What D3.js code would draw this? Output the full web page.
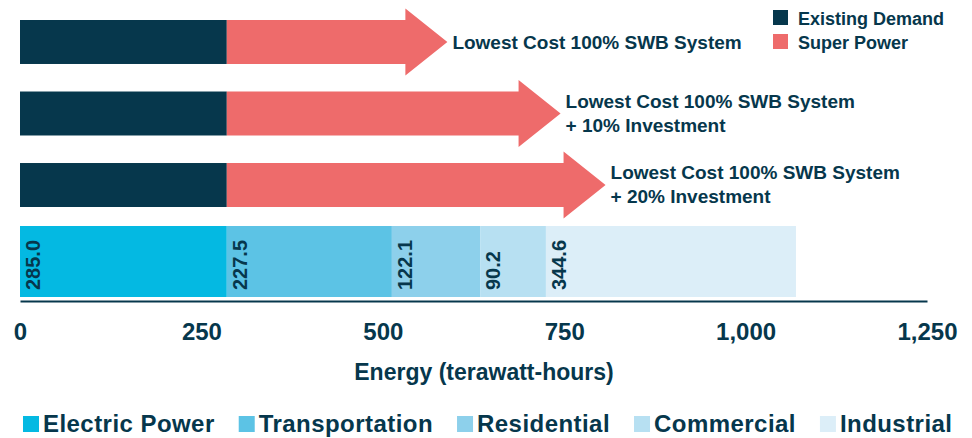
<!DOCTYPE html>
<html>
<head>
<meta charset="utf-8">
<script src="https://cdn.jsdelivr.net/npm/d3@7"></script>
<style>
  body { margin: 0; background: #fff; }
  svg { font-family: "Liberation Sans", Arial, Helvetica, sans-serif; font-weight: bold; }
</style>
</head>
<body>
<svg width="972" height="438"></svg>
<script>
// scenarios (arrow rows)
var scenarios = ["base", "plus10", "plus20"];
var scenarioLabels = [
    ["Lowest Cost 100% SWB System"],
    ["Lowest Cost 100% SWB System", "+ 10% Investment"],
    ["Lowest Cost 100% SWB System", "+ 20% Investment"]
];
var existingDemand = [285, 285, 285];
var superPower = [304, 460, 522];

// current demand by sector
var sectors = ["Electric Power", "Transportation", "Residential", "Commercial", "Industrial"];
var sectorValues = [285.0, 227.5, 122.1, 90.2, 344.6];

var xTicks = [0, 250, 500, 750, 1000, 1250];

var navy = "#06374c";
var red = "#ee6b6b";
var sectorColors = ["#04b9e2", "#5cc3e5", "#8dd0eb", "#b7e0f2", "#dceef8"];

function main() {
    var svg = d3.select("svg");

    var x = d3.scaleLinear()
        .domain([0, 1250])
        .range([20, 927]);

    var y = d3.scaleBand()
        .domain(scenarios)
        .range([20, 207])
        .paddingInner(0.385)
        .paddingOuter(0);

    var barTop = 226, barBottom = 297, axisY = 301;
    var headLen = 42, headHalf = 33.5;

    // existing demand bars
    svg.append("g").selectAll("rect")
        .data(scenarios)
        .enter().append("rect")
        .attr("x", x(0))
        .attr("y", function(d) { return y(d); })
        .attr("width", function(d, i) { return x(existingDemand[i]) - x(0); })
        .attr("height", y.bandwidth())
        .attr("fill", navy);

    // super power arrows
    svg.append("g").selectAll("path")
        .data(scenarios)
        .enter().append("path")
        .attr("fill", red)
        .attr("d", function(d, i) {
            var x0 = x(existingDemand[i]);
            var tip = x(existingDemand[i] + superPower[i]);
            var t = y(d), b = y(d) + y.bandwidth(), c = y(d) + y.bandwidth() / 2;
            return "M" + x0 + "," + t +
                "L" + (tip - headLen) + "," + t +
                "L" + (tip - headLen) + "," + (c - headHalf) +
                "L" + tip + "," + c +
                "L" + (tip - headLen) + "," + (c + headHalf) +
                "L" + (tip - headLen) + "," + b +
                "L" + x0 + "," + b + "Z";
        });

    // arrow labels
    svg.append("g").selectAll("text")
        .data(scenarios)
        .enter().append("text")
        .attr("font-size", "19px")
        .attr("fill", navy)
        .each(function(d, i) {
            var lines = scenarioLabels[i];
            var c = y(d) + y.bandwidth() / 2;
            var base = lines.length == 1 ? c + 7 : c - 6;
            var tip = x(existingDemand[i] + superPower[i]);
            d3.select(this).selectAll("tspan")
                .data(lines)
                .enter().append("tspan")
                .attr("x", tip + 5)
                .attr("y", function(l, j) { return base + j * 24; })
                .text(function(l) { return l; });
        });

    // stacked sector bar
    var starts = [];
    var acc = 0;
    sectorValues.forEach(function(v) { starts.push(acc); acc += v; });

    svg.append("g").selectAll("rect")
        .data(sectors)
        .enter().append("rect")
        .attr("x", function(d, i) { return x(starts[i]); })
        .attr("y", barTop)
        .attr("width", function(d, i) { return x(starts[i] + sectorValues[i]) - x(starts[i]); })
        .attr("height", barBottom - barTop)
        .attr("fill", function(d, i) { return sectorColors[i]; });

    svg.append("g").selectAll("text")
        .data(sectors)
        .enter().append("text")
        .attr("transform", function(d, i) {
            return "translate(" + (x(starts[i]) + 20) + "," + (barBottom - 7) + ") rotate(-90)";
        })
        .attr("font-size", "20px")
        .attr("fill", navy)
        .text(function(d, i) { return sectorValues[i].toFixed(1); });

    // x axis
    var axis = svg.append("g")
        .attr("transform", "translate(0," + axisY + ")")
        .call(d3.axisBottom(x).tickValues(xTicks).tickSize(0).tickPadding(22)
            .tickFormat(d3.format(",")));
    axis.select(".domain").attr("stroke", navy).attr("stroke-width", 2);
    axis.selectAll("text")
        .attr("font-size", "24px")
        .attr("fill", navy);
    axis.attr("font-family", null).attr("font-size", null);

    svg.append("text")
        .attr("x", 484)
        .attr("y", 380)
        .attr("text-anchor", "middle")
        .attr("font-size", "23px")
        .attr("fill", navy)
        .text("Energy (terawatt-hours)");

    // top legend
    var topLegend = [["Existing Demand", navy], ["Super Power", red]];
    var tl = svg.append("g").selectAll("g")
        .data(topLegend)
        .enter().append("g")
        .attr("transform", function(d, i) { return "translate(773," + (10 + i * 24) + ")"; });
    tl.append("rect").attr("width", 15).attr("height", 15)
        .attr("fill", function(d) { return d[1]; });
    tl.append("text").attr("x", 25).attr("y", 15)
        .attr("font-size", "18px").attr("fill", navy)
        .text(function(d) { return d[0]; });

    // bottom legend
    var lx = 23;
    sectors.forEach(function(s, i) {
        var g = svg.append("g").attr("transform", "translate(" + lx + ",416)");
        g.append("rect").attr("width", 16).attr("height", 16).attr("fill", sectorColors[i]);
        var t = g.append("text").attr("x", 20).attr("y", 16)
            .attr("font-size", "24px").attr("letter-spacing", "0.45px")
            .attr("fill", navy).text(s);
        lx += 20 + t.node().getComputedTextLength() + 24;
    });
}
main();
</script>
</body>
</html>
